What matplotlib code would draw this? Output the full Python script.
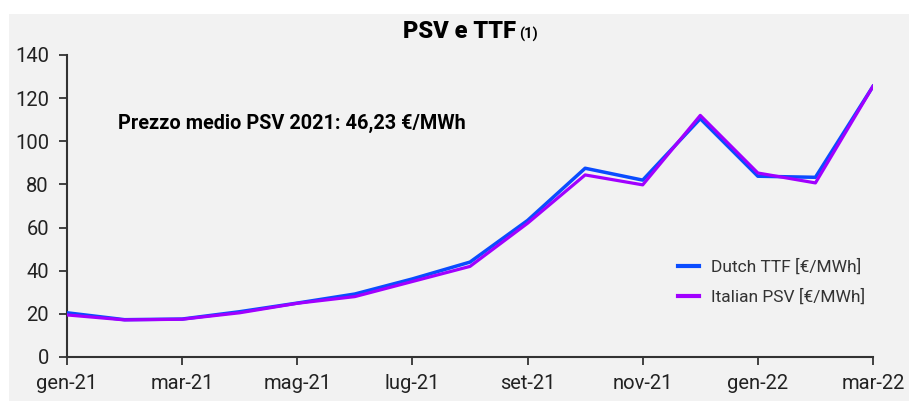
import matplotlib.pyplot as plt
import matplotlib.patches as mpatches

# Mesi (gen-21 .. mar-22) e prezzi mensili
months = ["gen-21", "feb-21", "mar-21", "apr-21", "mag-21", "giu-21", "lug-21", "ago-21",
          "set-21", "ott-21", "nov-21", "dic-21", "gen-22", "feb-22", "mar-22"]
ttf = [20.5, 17.3, 17.6, 21.0, 25.0, 29.2, 36.2, 44.0, 63.3, 87.5, 82.0, 110.5, 83.8, 83.3, 125.5]
psv = [19.5, 17.2, 17.5, 20.5, 24.9, 28.0, 35.0, 42.0, 62.0, 84.4, 79.8, 112.0, 85.3, 80.7, 125.5]
tick_labels = months[::2]
y_ticks = [0, 20, 40, 60, 80, 100, 120, 140]

font = "Roboto"
bg = "#f2f2f2"

fig = plt.figure(figsize=(9.09, 4.01), dpi=100)
fig.patch.set_facecolor("white")
# sfondo grigio della slide
fig.patches.append(mpatches.Rectangle((9 / 909, 0), 1, 1 - 14 / 401, transform=fig.transFigure,
                                      facecolor=bg, edgecolor="none", zorder=-10))

ax = fig.add_axes([67 / 909, 1 - 357 / 401, (873 - 67) / 909, (357 - 55) / 401])
ax.set_facecolor(bg)

x = list(range(len(months)))
ax.plot(x, ttf, color="#0a4cff", lw=2.5, label="Dutch TTF [€/MWh]", zorder=3)
ax.plot(x, psv, color="#a100ff", lw=2.3, label="Italian PSV [€/MWh]", zorder=4)

ax.set_xlim(0, len(months) - 1)
ax.set_ylim(0, 140)
ax.set_xticks(x[::2])
ax.set_xticklabels(tick_labels, fontfamily=font, fontsize=14.5, color="#222222")
ax.set_yticks(y_ticks)
ax.set_yticklabels([str(v) for v in y_ticks], fontfamily=font, fontsize=14.5, color="#222222")
ax.tick_params(axis="both", direction="out", length=6, width=1.3, color="#333333")
ax.tick_params(axis="x", pad=6)
ax.tick_params(axis="y", pad=7)

for side in ["top", "right"]:
    ax.spines[side].set_visible(False)
for side in ["left", "bottom"]:
    ax.spines[side].set_linewidth(1.5)
    ax.spines[side].set_color("#333333")

fig.text(516 / 909, 1 - 31 / 401, "PSV e TTF", ha="right", va="center", fontfamily=font,
         fontsize=17, fontweight="black", color="black")
fig.text(519 / 909, 1 - 34 / 401, "(1)", ha="left", va="center", fontfamily=font,
         fontsize=10.5, fontweight="bold", color="black")

ax.text(118 / 909, 1 - 123 / 401, "Prezzo medio PSV 2021: 46,23 €/MWh", transform=fig.transFigure,
        ha="left", va="center", fontfamily=font, fontsize=14.3, fontweight="bold", color="black")

leg = ax.legend(loc="lower right", bbox_to_anchor=(1.01, 0.12), frameon=False,
                prop={"family": font, "size": 12.5}, handlelength=1.2, handletextpad=0.7,
                labelspacing=0.8, labelcolor="#333333")
for h in leg.get_lines():
    h.set_linewidth(3)

plt.savefig("out.png", dpi=100, facecolor=fig.get_facecolor())
